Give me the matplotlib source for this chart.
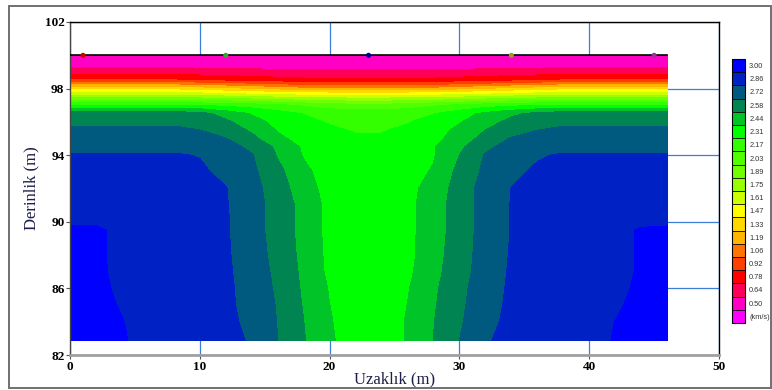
import numpy as np
import matplotlib
matplotlib.use("Agg")
import matplotlib.pyplot as plt
from matplotlib.patches import Rectangle

# ---------------- data ----------------
x_nodes = [0, 2, 4, 6, 8, 10, 12, 14, 16, 18, 20, 22, 24, 26, 28, 30, 32, 34, 36, 38, 40, 42, 44, 46]
depth_nodes = [100.0, 99.5, 99.0, 98.5, 98.0, 97.5, 97.0, 96.5, 96.0, 95.5, 95.0, 94.5, 94.0,
               93.0, 92.0, 91.0, 90.0, 89.5, 88.0, 87.0, 86.0, 85.0, 84.0, 82.85]

r100 = [0.52, 0.52, 0.52, 0.52, 0.52, 0.52, 0.52, 0.52, 0.52, 0.52, 0.52, 0.52, 0.52, 0.52, 0.52, 0.52, 0.52, 0.52, 0.52, 0.52, 0.52, 0.52, 0.52, 0.52]
r995 = [0.56, 0.56, 0.56, 0.56, 0.56, 0.56, 0.56, 0.56, 0.55, 0.55, 0.55, 0.55, 0.55, 0.55, 0.55, 0.55, 0.56, 0.56, 0.56, 0.56, 0.56, 0.56, 0.56, 0.56]
r990 = [0.72, 0.72, 0.72, 0.72, 0.72, 0.71, 0.70, 0.69, 0.68, 0.67, 0.67, 0.67, 0.67, 0.67, 0.67, 0.68, 0.69, 0.70, 0.71, 0.72, 0.72, 0.72, 0.72, 0.72]
r985 = [0.93, 0.93, 0.93, 0.93, 0.93, 0.90, 0.88, 0.86, 0.84, 0.82, 0.82, 0.82, 0.82, 0.82, 0.82, 0.84, 0.86, 0.88, 0.90, 0.93, 0.93, 0.93, 0.93, 0.93]
r980 = [1.40, 1.40, 1.40, 1.40, 1.40, 1.37, 1.33, 1.29, 1.25, 1.21, 1.21, 1.20, 1.20, 1.21, 1.21, 1.25, 1.29, 1.33, 1.37, 1.40, 1.40, 1.40, 1.40, 1.40]
r975 = [1.85, 1.85, 1.85, 1.85, 1.85, 1.83, 1.80, 1.77, 1.74, 1.72, 1.70, 1.70, 1.70, 1.70, 1.72, 1.74, 1.77, 1.80, 1.83, 1.85, 1.85, 1.85, 1.85, 1.85]
r970 = [2.30, 2.30, 2.30, 2.30, 2.30, 2.30, 2.28, 2.25, 2.20, 2.15, 2.10, 2.08, 2.08, 2.10, 2.15, 2.20, 2.25, 2.28, 2.30, 2.30, 2.30, 2.30, 2.30, 2.30]
r965 = [2.66, 2.66, 2.66, 2.66, 2.66, 2.63, 2.52, 2.43, 2.37, 2.305, 2.26, 2.24, 2.24, 2.27, 2.305, 2.38, 2.47, 2.55, 2.62, 2.66, 2.66, 2.66, 2.66, 2.66]
r960 = [2.70, 2.70, 2.70, 2.70, 2.70, 2.69, 2.61, 2.49, 2.40, 2.34, 2.30, 2.27, 2.27, 2.30, 2.37, 2.43, 2.52, 2.62, 2.68, 2.70, 2.70, 2.70, 2.70, 2.70]
r955 = [2.74, 2.74, 2.74, 2.74, 2.74, 2.721, 2.66, 2.56, 2.43, 2.37, 2.33, 2.30, 2.30, 2.34, 2.39, 2.47, 2.581, 2.66, 2.719, 2.74, 2.74, 2.74, 2.74, 2.74]
r950 = [2.78, 2.78, 2.78, 2.78, 2.78, 2.76, 2.725, 2.62, 2.47, 2.39, 2.35, 2.33, 2.33, 2.35, 2.40, 2.50, 2.63, 2.73, 2.77, 2.78, 2.78, 2.78, 2.78, 2.78]
r945 = [2.83, 2.83, 2.83, 2.83, 2.83, 2.81, 2.77, 2.69, 2.55, 2.42, 2.36, 2.34, 2.34, 2.37, 2.43, 2.55, 2.69, 2.77, 2.81, 2.83, 2.83, 2.83, 2.83, 2.83]
r940 = [2.87, 2.87, 2.87, 2.87, 2.87, 2.855, 2.82, 2.73, 2.57, 2.43, 2.37, 2.35, 2.35, 2.38, 2.43, 2.58, 2.73, 2.81, 2.85, 2.87, 2.87, 2.87, 2.87, 2.87]
r930 = [2.89, 2.89, 2.89, 2.89, 2.89, 2.88, 2.83, 2.75, 2.62, 2.47, 2.38, 2.36, 2.36, 2.40, 2.45, 2.62, 2.75, 2.84, 2.875, 2.89, 2.90, 2.90, 2.90, 2.90]
r920 = [2.91, 2.91, 2.91, 2.91, 2.91, 2.89, 2.865, 2.77, 2.65, 2.50, 2.39, 2.36, 2.36, 2.41, 2.48, 2.65, 2.77, 2.861, 2.89, 2.91, 2.91, 2.91, 2.91, 2.91]
r910 = [2.93, 2.93, 2.92, 2.91, 2.90, 2.89, 2.87, 2.77, 2.67, 2.53, 2.40, 2.36, 2.36, 2.40, 2.52, 2.64, 2.78, 2.865, 2.89, 2.90, 2.91, 2.92, 2.93, 2.93]
r900 = [2.96, 2.96, 2.93, 2.92, 2.91, 2.895, 2.875, 2.77, 2.67, 2.53, 2.40, 2.36, 2.36, 2.40, 2.52, 2.64, 2.78, 2.865, 2.89, 2.90, 2.91, 2.93, 2.96, 2.96]
r895 = [3.04, 3.04, 2.94, 2.92, 2.91, 2.895, 2.875, 2.77, 2.67, 2.53, 2.40, 2.36, 2.36, 2.40, 2.52, 2.64, 2.78, 2.865, 2.89, 2.90, 2.91, 2.94, 3.02, 3.04]
r880 = [3.04, 3.04, 2.94, 2.925, 2.915, 2.90, 2.88, 2.78, 2.68, 2.54, 2.405, 2.36, 2.36, 2.40, 2.53, 2.65, 2.785, 2.87, 2.895, 2.905, 2.915, 2.94, 3.02, 3.04]
r870 = [3.04, 3.04, 2.95, 2.93, 2.92, 2.905, 2.885, 2.79, 2.69, 2.55, 2.41, 2.365, 2.365, 2.41, 2.54, 2.66, 2.79, 2.875, 2.90, 2.91, 2.92, 2.945, 3.02, 3.04]
r860 = [3.04, 3.04, 2.97, 2.94, 2.925, 2.91, 2.89, 2.80, 2.70, 2.56, 2.43, 2.37, 2.37, 2.43, 2.555, 2.68, 2.80, 2.88, 2.905, 2.915, 2.93, 2.96, 3.03, 3.04]
r850 = [3.04, 3.04, 2.99, 2.95, 2.93, 2.915, 2.89, 2.81, 2.71, 2.57, 2.441, 2.37, 2.37, 2.441, 2.565, 2.69, 2.81, 2.885, 2.91, 2.925, 2.94, 2.985, 3.03, 3.04]
r840 = [3.04, 3.04, 3.005, 2.95, 2.93, 2.91, 2.89, 2.83, 2.715, 2.581, 2.45, 2.37, 2.37, 2.45, 2.575, 2.70, 2.83, 2.885, 2.91, 2.93, 2.95, 3.001, 3.03, 3.04]
r8285 = [3.04, 3.04, 3.015, 2.95, 2.93, 2.91, 2.89, 2.85, 2.721, 2.59, 2.46, 2.37, 2.37, 2.45, 2.581, 2.721, 2.85, 2.89, 2.91, 2.93, 2.95, 3.01, 3.03, 3.04]

velocity_rows = [r100, r995, r990, r985, r980, r975, r970, r965, r960, r955, r950, r945, r940,
                 r930, r920, r910, r900, r895, r880, r870, r860, r850, r840, r8285]

levels = [0.36, 0.50, 0.64, 0.78, 0.92, 1.06, 1.19, 1.33, 1.47, 1.61, 1.75, 1.89, 2.03,
          2.17, 2.31, 2.44, 2.58, 2.72, 2.86, 3.00, 3.14]
band_colors = ["#FF00FF", "#FF00C4", "#FF0058", "#FF0000", "#FF4000", "#FF7400", "#FFB400",
               "#FFD800", "#FFFF00", "#CCFF00", "#99FF00", "#70FF00", "#50FF00", "#33FF00",
               "#00FF00", "#00C428", "#008452", "#005A80", "#0022C4", "#0000FF"]
cbar_labels = ["(km/s)", "0.50", "0.64", "0.78", "0.92", "1.06", "1.19", "1.33", "1.47", "1.61",
               "1.75", "1.89", "2.03", "2.17", "2.31", "2.44", "2.58", "2.72", "2.86", "3.00"]

sensor_x = [1, 12, 23, 34, 45]
sensor_colors = ["#CC0000", "#33AA33", "#000099", "#999933", "#993399"]

x_ticks = [0, 10, 20, 30, 40, 50]
y_ticks = [82, 86, 90, 94, 98, 102]

# ---------------- figure ----------------
W, H = 772, 390
fig = plt.figure(figsize=(W / 100, H / 100), dpi=100)
fig.patch.set_facecolor("white")

ax = fig.add_axes([70 / W, 1 - 355 / H, 649 / W, 333 / H])
ax.set_xlim(0, 50)
ax.set_ylim(82, 102)

X, D = np.meshgrid(np.array(x_nodes, float), np.array(depth_nodes, float))
V = np.array(velocity_rows, float)
cs = ax.contourf(X, D, V, levels=levels, colors=band_colors, zorder=2)

# surface line and sensor dots
ax.plot([x_nodes[0], x_nodes[-1]], [depth_nodes[0], depth_nodes[0]], color="black", lw=1.2, zorder=4)
ax.scatter(sensor_x, [depth_nodes[0]] * len(sensor_x), c=sensor_colors, s=7, zorder=5)

# grid
ax.set_xticks(x_ticks)
ax.set_yticks(y_ticks)
ax.grid(True, color="#3C7FD8", lw=0.9)
ax.set_axisbelow(True)

serif = "Liberation Serif"
ax.set_xticklabels([str(t) for t in x_ticks], fontsize=9.5, fontweight="bold", family=serif)
ax.set_yticklabels([str(t) for t in y_ticks], fontsize=9.5, fontweight="bold", family=serif)
ax.tick_params(direction="out", length=3, width=0.8, color="#555555", pad=1)

for side in ["top", "right"]:
    ax.spines[side].set_color("black")
    ax.spines[side].set_linewidth(1.0)
ax.spines["left"].set_color("#444444")
ax.spines["left"].set_linewidth(1.0)
ax.spines["bottom"].set_color("#A0A0A0")
ax.spines["bottom"].set_linewidth(2.0)

ax.set_xlabel("Uzaklık (m)", fontsize=12, family=serif, color="#1E1E4A", labelpad=-1)
ax.set_ylabel("Derinlik (m)", fontsize=12, family=serif, color="#1E1E4A", labelpad=4)

# colorbar
cax = fig.add_axes([732 / W, 1 - 323 / H, 13 / W, 264 / H])
centers = [(levels[i] + levels[i + 1]) / 2 for i in range(len(levels) - 1)]
cb = fig.colorbar(cs, cax=cax, ticks=centers, drawedges=True)
cb.ax.set_yticklabels(cbar_labels, fontsize=5.3, family="Liberation Sans", color="#333333")
cb.ax.tick_params(length=0, pad=3)
cb.outline.set_linewidth(0.8)
cb.outline.set_edgecolor("black")
cb.dividers.set_color("black")
cb.dividers.set_linewidth(0.6)

# outer frame
fig.patches.append(Rectangle((9 / W, 2 / H), 762 / W, 382 / H, transform=fig.transFigure,
                             fill=False, edgecolor="#707070", lw=1.4))

fig.savefig("out.png", dpi=100)
